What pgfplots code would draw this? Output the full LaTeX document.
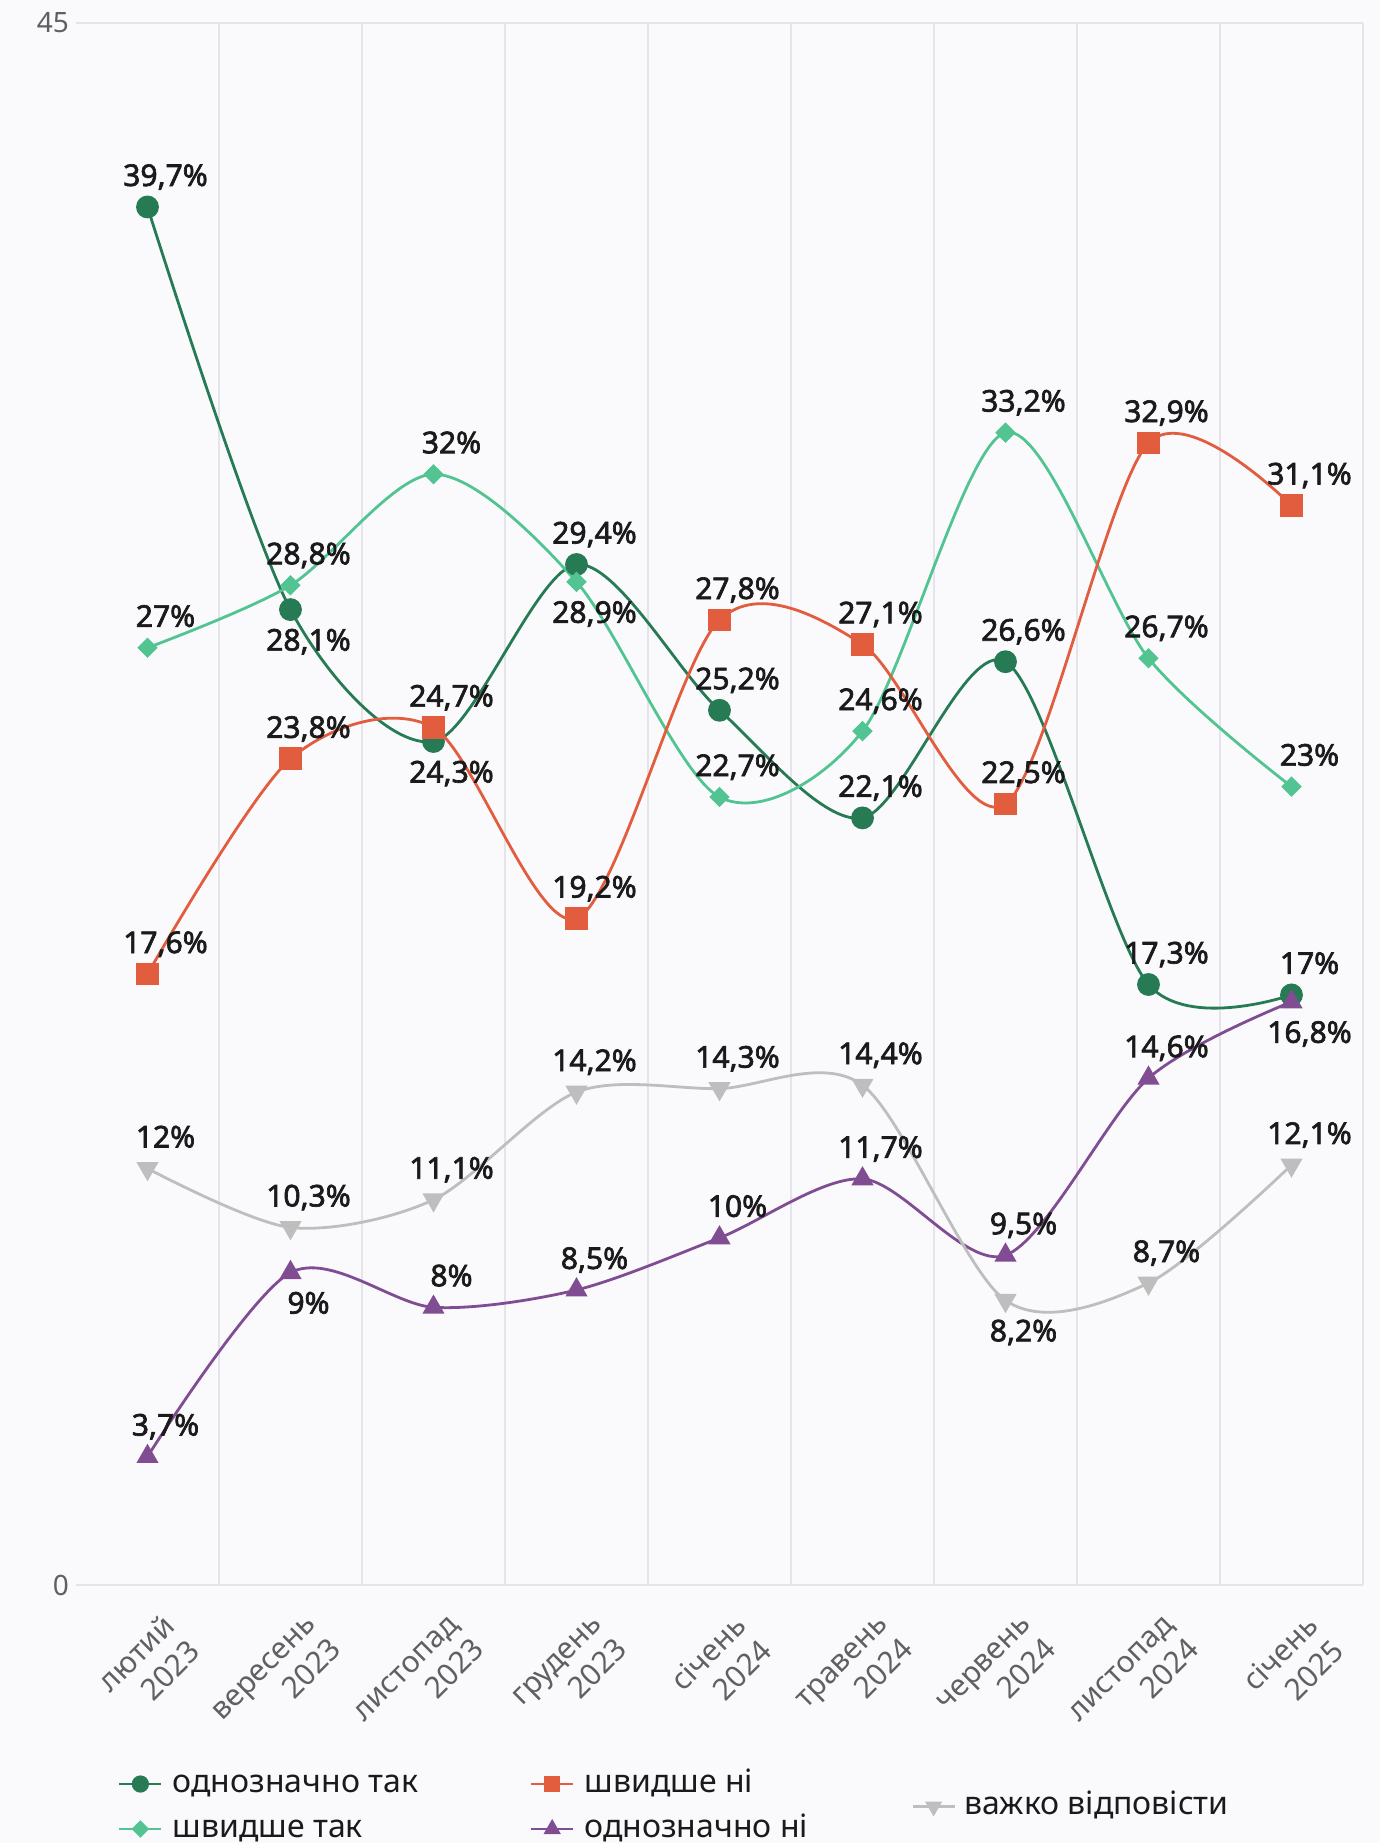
\documentclass[border=0pt]{standalone}
\usepackage{fontspec}
\setmainfont{Noto Sans}[AutoFakeBold=2.2]
\usepackage{pgfplots}
\pgfplotsset{compat=1.18}
\definecolor{cA}{RGB}{38,122,84}
\definecolor{cB}{RGB}{82,196,146}
\definecolor{cC}{RGB}{226,92,62}
\definecolor{cD}{RGB}{128,76,146}
\definecolor{cE}{RGB}{190,190,190}
\definecolor{bg}{RGB}{250,250,253}
\definecolor{gridc}{RGB}{228,228,234}
\definecolor{basec}{RGB}{204,214,235}
\definecolor{tickc}{RGB}{96,96,96}
\definecolor{labc}{RGB}{26,26,26}
\pgfplotsset{
  lab/.style={
    nodes near coords={\pgfmathprintnumber{\pgfplotspointmeta}\%},
    visualization depends on={value \thisrow{d} \as \dy},
    every node near coord/.append style={anchor=base, inner sep=0pt,
      xshift=9pt, yshift=\dy*1pt,
      font=\fontsize{15pt}{18pt}\selectfont\bfseries, text=labc}
  }
}
\begin{document}
\begin{tikzpicture}
\fill[bg] (-38pt,-129pt) rectangle (652pt,792.5pt);
\begin{axis}[
  scale only axis, width=643.5pt, height=781pt,
  xmin=-0.5, xmax=8.5, ymin=0, ymax=45,
  clip=false,
  axis line style={draw=none},
  /pgf/number format/assume math mode=true,
  /pgf/number format/use comma,
  /pgf/number format/fixed,
  /pgf/number format/precision=1,
  xtick={0,...,8},
  xticklabels={{лютий\\2023},{вересень\\2023},{листопад\\2023},{грудень\\2023},{січень\\2024},{травень\\2024},{червень\\2024},{листопад\\2024},{січень\\2025}},
  major tick length=0pt, minor tick length=0pt,
  minor xtick={0.5,1.5,2.5,3.5,4.5,5.5,6.5,7.5,8.5},
  xminorgrids=true,
  minor x grid style={gridc, line width=0.6pt},
  ytick={45},
  ymajorgrids=true,
  major y grid style={gridc, line width=0.6pt},
  extra y ticks={0},
  extra y tick style={grid=major, major grid style={basec, line width=1.2pt}},
  tick label style={font=\fontsize{15pt}{18pt}\selectfont, text=tickc},
  yticklabel style={font=\fontsize{14pt}{17pt}\selectfont},
  xticklabel style={inner sep=0pt, xshift=17pt, yshift=-24pt, rotate=45, anchor=east, align=right},
  legend columns=3,
  legend cell align=left,
  legend style={draw=none, fill=none, at={(0,0)}, anchor=north west,
    xshift=21pt, yshift=-91.5pt, inner sep=0pt, outer sep=0pt, row sep=6.5pt,
    font=\fontsize{16pt}{19pt}\selectfont, text=labc,
    nodes={inner sep=0pt, text height=12pt, text depth=4pt},
    /tikz/every odd column/.append style={column sep=5pt}},
  legend image code/.code={\draw[mark repeat=2, mark phase=2, #1] plot coordinates {(0pt,0pt)(10.5pt,0pt)(21pt,0pt)};},
]
% однозначно так
\addplot[cA, line width=1.4pt, smooth, mark=*, mark size=5pt, lab, forget plot] table {
x y d
0 39.7 10.5
1 28.1 -20.5
2 24.3 -20.5
3 29.4 10.5
4 25.2 10.5
5 22.1 10.5
6 26.6 10.5
7 17.3 10.5
8 17.0 10.5
};
% швидше так
\addplot[cB, line width=1.4pt, smooth, mark=square*, mark size=2.9pt, mark options={rotate=45}, lab, forget plot] table {
x y d
0 27.0 10.5
1 28.8 10.5
2 32.0 10.5
3 28.9 -20.5
4 22.7 10.5
5 24.6 10.5
6 33.2 10.5
7 26.7 10.5
8 23.0 10.5
};
% швидше ні
\addplot[cC, line width=1.4pt, smooth, mark=square*, mark size=5pt, lab, forget plot] table {
x y d
0 17.6 10.5
1 23.8 10.5
2 24.7 10.5
3 19.2 10.5
4 27.8 10.5
5 27.1 10.5
6 22.5 10.5
7 32.9 10.5
8 31.1 10.5
};
% однозначно ні
\addplot[cD, line width=1.4pt, smooth, mark=triangle*, mark size=5pt, lab, forget plot] table {
x y d
0 3.7 10.5
1 9.0 -20.5
2 8.0 10.5
3 8.5 10.5
4 10.0 10.5
5 11.7 10.5
6 9.5 10.5
7 14.6 10.5
8 16.8 -20.5
};
% важко відповісти
\addplot[cE, line width=1.4pt, smooth, mark=triangle*, mark size=5pt, mark options={rotate=180}, lab, forget plot] table {
x y d
0 12.0 10.5
1 10.3 10.5
2 11.1 10.5
3 14.2 10.5
4 14.3 10.5
5 14.4 10.5
6 8.2 -20.5
7 8.7 10.5
8 12.1 10.5
};
\addlegendimage{cA, line width=1.4pt, mark=*, mark size=3.6pt}
\addlegendentry{\makebox[178.5pt][l]{однозначно так}}
\addlegendimage{cC, line width=1.4pt, mark=square*, mark size=3.4pt}
\addlegendentry{\makebox[164pt][l]{швидше ні}}
\addlegendimage{legend image code/.code={\path[draw=none, fill=none] (0pt,0pt) rectangle (21pt,0pt);
  \draw[overlay, yshift=-11.25pt, cE, line width=1.4pt, mark=triangle*, mark size=3.6pt, mark options={rotate=180}, mark repeat=2, mark phase=2] plot coordinates {(0pt,0pt)(10.5pt,0pt)(21pt,0pt)};}}
\addlegendentry{\raisebox{-11.25pt}[0pt][0pt]{важко відповісти}}
\addlegendimage{cB, line width=1.4pt, mark=square*, mark size=2.4pt, mark options={rotate=45}}
\addlegendentry{швидше так}
\addlegendimage{cD, line width=1.4pt, mark=triangle*, mark size=3.6pt}
\addlegendentry{однозначно ні}
\end{axis}
\pgfresetboundingbox
\path (-38pt,-129pt) rectangle (652pt,792.5pt);
\end{tikzpicture}
\end{document}
